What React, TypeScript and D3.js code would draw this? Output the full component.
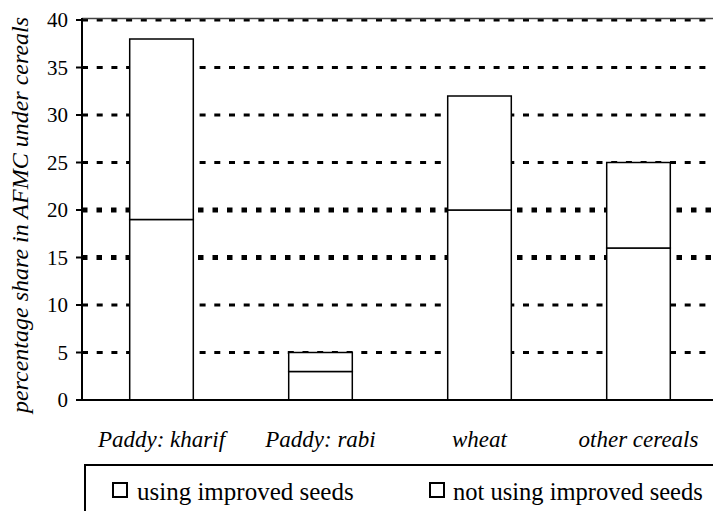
import * as d3 from 'd3';

const categories = ['Paddy: kharif', 'Paddy: rabi', 'wheat', 'other cereals'];
const usingImproved = [19, 3, 20, 16];
const notUsingImproved = [19, 2, 12, 9];
const seriesNames = ['using improved seeds', 'not using improved seeds'];
const yTicks = [0, 5, 10, 15, 20, 25, 30, 35, 40];

const width = 713;
const height = 511;
const margin = { left: 82, top: 20, right: -5, bottom: 111 };
const font = "'Liberation Serif', 'Times New Roman', Times, serif";

const App = () => {
  const x = d3
    .scaleBand<string>()
    .domain(categories)
    .range([margin.left, width - margin.right])
    .paddingInner(0.6)
    .paddingOuter(0.3);
  const y = d3
    .scaleLinear()
    .domain([0, 40])
    .range([height - margin.bottom, margin.top]);

  const rows = categories.map((c, i) => ({ cat: c, a: usingImproved[i], b: notUsingImproved[i] }));
  const stacked = d3.stack<{ cat: string; a: number; b: number }>().keys(['a', 'b'])(rows);

  const x0 = margin.left;
  const x1 = width - margin.right;

  // legend item positions (square x, text x, text size)
  const legendPos = [
    { sx: 113, tx: 137, size: 25 },
    { sx: 430, tx: 453, size: 24.5 },
  ];

  return (
    <svg
      width={width}
      height={height}
      style={{ position: 'absolute', left: 0, top: 0, background: '#fff', fontFamily: font }}
    >
      {/* gridlines, the 15 and 20 ones come out heavier in the original */}
      {yTicks
        .filter(t => t > 0)
        .map(t => {
          const heavy = t === 15 || t === 20;
          return (
            <line
              key={'g' + t}
              x1={x0}
              x2={x1}
              y1={y(t)}
              y2={y(t)}
              stroke="#000"
              strokeWidth={heavy ? 5 : 3}
              strokeDasharray={heavy ? '5.5,9' : '6,8.7'}
            />
          );
        })}
      <line x1={x0} x2={x1} y1={y(40) - 1.5} y2={y(40) - 1.5} stroke="#444" strokeWidth={1.5} />

      {/* bars */}
      {stacked.map(layer =>
        layer.map((d, i) => (
          <rect
            key={layer.key + i}
            x={x(categories[i])!}
            width={x.bandwidth()}
            y={y(d[1])}
            height={y(d[0]) - y(d[1])}
            fill="#fff"
            stroke="#000"
            strokeWidth={1.5}
          />
        ))
      )}

      {/* axes */}
      <line x1={x0} x2={x0} y1={y(40) - 2} y2={y(0)} stroke="#000" strokeWidth={2} />
      <line x1={x0} x2={x1} y1={y(0)} y2={y(0)} stroke="#000" strokeWidth={2} />
      {yTicks.map(t => (
        <g key={'t' + t}>
          <line x1={x0 - 6} x2={x0} y1={y(t)} y2={y(t)} stroke="#000" strokeWidth={2} />
          <text x={x0 - 14} y={y(t)} dy="0.34em" textAnchor="end" fontSize={21} style={{ fontFamily: font }}>
            {t}
          </text>
        </g>
      ))}
      <text
        transform={`translate(28, 215) rotate(-90)`}
        textAnchor="middle"
        fontSize={24}
        fontStyle="italic"
        style={{ fontFamily: font }}
      >
        percentage share in AFMC under cereals
      </text>

      {/* category labels */}
      {categories.map(c => (
        <text
          key={'c' + c}
          x={x(c)! + x.bandwidth() / 2}
          y={447}
          textAnchor="middle"
          fontSize={23}
          fontStyle="italic"
          style={{ fontFamily: font }}
        >
          {c}
        </text>
      ))}

      {/* legend */}
      <rect x={85} y={465} width={700} height={100} fill="none" stroke="#000" strokeWidth={2} />
      {seriesNames.map((s, i) => {
        const p = legendPos[i];
        return (
          <g key={s}>
            <rect x={p.sx} y={483} width={14} height={14} fill="#fff" stroke="#000" strokeWidth={2} />
            <text x={p.tx} y={500} fontSize={p.size} style={{ fontFamily: font }}>
              {s}
            </text>
          </g>
        );
      })}
    </svg>
  );
};

export default App;
